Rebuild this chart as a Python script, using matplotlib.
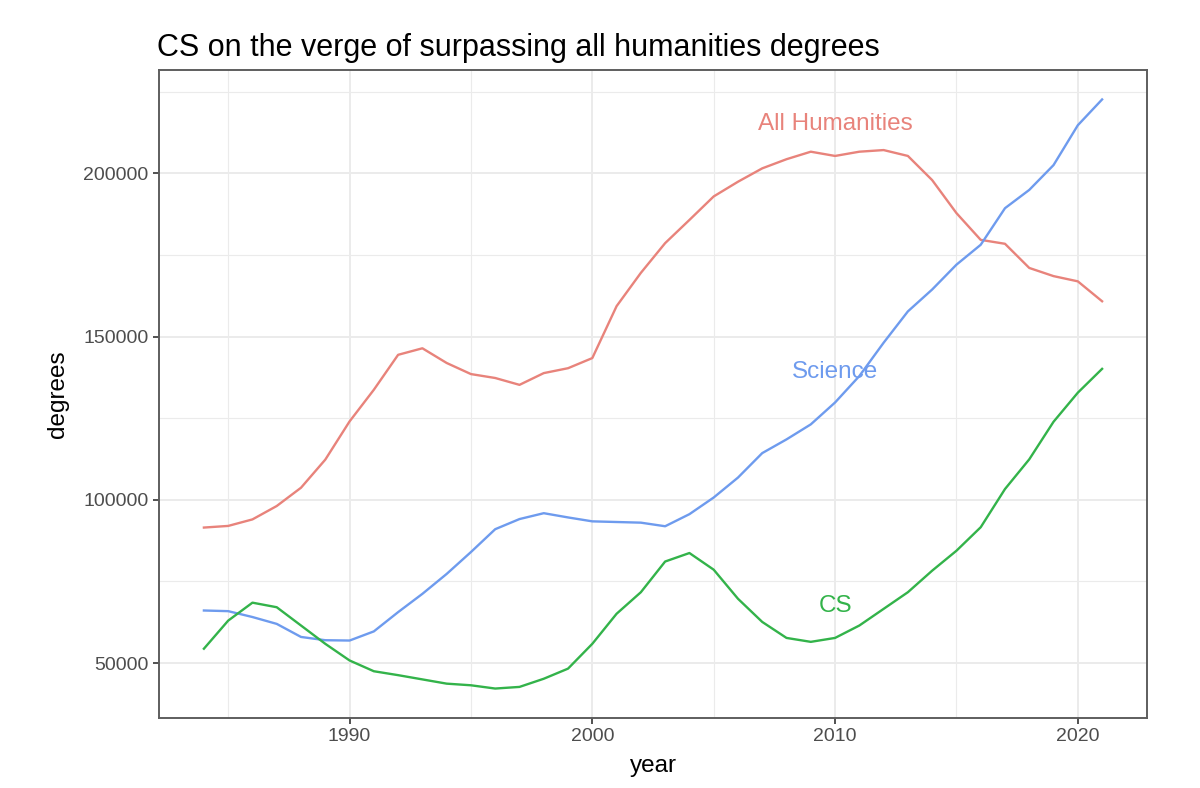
#!/usr/bin/env python3
"""CS vs humanities vs science degrees, ggplot-style line chart."""

import matplotlib

matplotlib.use("Agg")
import matplotlib.pyplot as plt
import numpy as np

plt.rcParams["font.family"] = ["Liberation Sans", "DejaVu Sans"]

YEARS = list(range(1984, 2022))

HUMANITIES = [
    91500, 92000, 94000, 98100, 103700, 112300, 124000, 133700, 144400, 146400,
    141900, 138500, 137300, 135200, 138800, 140300, 143400, 159300, 169500, 178600,
    185700, 192900, 197400, 201500, 204300, 206600, 205300, 206600, 207100, 205300,
    197900, 187800, 179600, 178400, 171000, 168500, 166900, 160800,
]
SCIENCE = [
    66100, 65900, 64100, 62000, 58000, 57000, 56900, 59700, 65600, 71200,
    77300, 84000, 91000, 94100, 95900, 94600, 93400, 93200, 93000, 91900,
    95600, 100700, 106800, 114300, 118500, 123100, 129800, 137900, 148100, 157700,
    164400, 172000, 178100, 189300, 194900, 202500, 214700, 222600,
]
CS = [
    54400, 63000, 68500, 67100, 61500, 55900, 50800, 47500, 46300, 45000,
    43700, 43200, 42200, 42700, 45200, 48300, 55900, 65100, 71700, 81100,
    83700, 78600, 69700, 62600, 57700, 56500, 57700, 61500, 66600, 71700,
    78300, 84400, 91600, 103300, 112400, 123900, 132800, 140100,
]

SERIES = ["All Humanities", "Science", "CS"]
COLORS = {"All Humanities": "#E8837B", "Science": "#6E9BEE", "CS": "#33B34A"}
LABEL_POS = {"All Humanities": (2010, 215000), "Science": (2010, 139000), "CS": (2010, 67500)}

TICK_COLOR = "#4D4D4D"
GRID_COLOR = "#EBEBEB"
BORDER_COLOR = "#5E5E5E"


def expand(lo, hi, frac=0.05):
    span = hi - lo
    return lo - frac * span, hi + frac * span


def main():
    data = {"All Humanities": HUMANITIES, "Science": SCIENCE, "CS": CS}
    fig = plt.figure(figsize=(12, 7.88), dpi=100)
    ax = fig.add_axes([159 / 1200, 1 - 718 / 788, (1147 - 159) / 1200, (718 - 70) / 788])

    for name in SERIES:
        ax.plot(YEARS, data[name], color=COLORS[name], linewidth=1.7, zorder=3)
        x, y = LABEL_POS[name]
        ax.text(x, y, name, color=COLORS[name], fontsize=17.5, ha="center", va="center", zorder=4)

    all_vals = np.concatenate([np.asarray(v) for v in data.values()])
    ax.set_xlim(*expand(min(YEARS), max(YEARS)))
    ax.set_ylim(*expand(all_vals.min(), all_vals.max()))

    ax.set_xticks([1990, 2000, 2010, 2020])
    ax.set_xticks([1985, 1995, 2005, 2015], minor=True)
    ax.set_yticks([50000, 100000, 150000, 200000])
    ax.set_yticks([75000, 125000, 175000, 225000], minor=True)
    ax.set_yticklabels(["50000", "100000", "150000", "200000"])

    ax.grid(which="major", color=GRID_COLOR, linewidth=1.4, zorder=0)
    ax.grid(which="minor", color=GRID_COLOR, linewidth=0.8, zorder=0)
    ax.set_axisbelow(True)

    for spine in ax.spines.values():
        spine.set_color(BORDER_COLOR)
        spine.set_linewidth(1.4)

    ax.tick_params(which="major", length=4.5, width=1.2, color="#333333",
                   labelcolor=TICK_COLOR, labelsize=14, pad=3)
    ax.tick_params(which="minor", length=0)

    ax.set_xlabel("year", fontsize=17.5, labelpad=7)
    ax.set_ylabel("degrees", fontsize=17.5, labelpad=10)

    fig.text(157 / 1200, 1 - 56 / 788, "CS on the verge of surpassing all humanities degrees",
             fontsize=22, ha="left", va="baseline")

    fig.savefig("out.png", dpi=100)


if __name__ == "__main__":
    main()
